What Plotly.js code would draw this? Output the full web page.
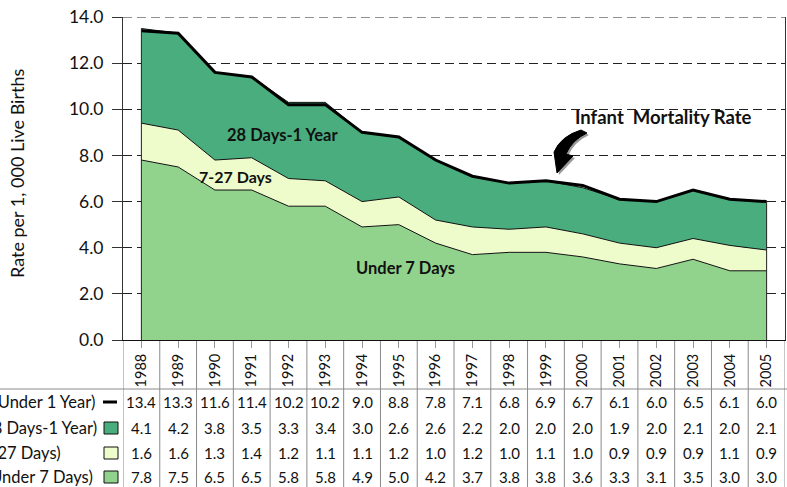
<!DOCTYPE html>
<html>
<head>
<meta charset="utf-8">
<script src="https://cdn.plot.ly/plotly-3.0.1.min.js"></script>
<style>html,body{margin:0;padding:0;background:#fff;}#chart{width:787px;height:487px;}</style>
</head>
<body>
<div id="chart"></div>
<script>
// ---- data ----
var years = ["1988","1989","1990","1991","1992","1993","1994","1995","1996","1997","1998","1999","2000","2001","2002","2003","2004","2005"];
var under1Year = [13.4,13.3,11.6,11.4,10.2,10.2,9.0,8.8,7.8,7.1,6.8,6.9,6.7,6.1,6.0,6.5,6.1,6.0];
var days28to1Year = [4.1,4.2,3.8,3.5,3.3,3.4,3.0,2.6,2.6,2.2,2.0,2.0,2.0,1.9,2.0,2.1,2.0,2.1];
var days7to27 = [1.6,1.6,1.3,1.4,1.2,1.1,1.1,1.2,1.0,1.2,1.0,1.1,1.0,0.9,0.9,0.9,1.1,0.9];
var under7Days = [7.8,7.5,6.5,6.5,5.8,5.8,4.9,5.0,4.2,3.7,3.8,3.8,3.6,3.3,3.1,3.5,3.0,3.0];
var rowLabels = ["Infant Mortality (Under 1 Year)","Postneonatal (28 Days-1 Year)","Late Neonatal (7-27 Days)","Early Neonatal (Under 7 Days)"];

// ---- styling ----
var C_DARK = "#4aad7e", C_PALE = "#eefbca", C_MID = "#91d38d";
var FONT = "Lato, 'Noto Sans', sans-serif";
var L = 123, R = 785, T = 17, B = 340, W = 787, H = 487;
function px(x){ return (x - L) / (R - L); }
function py(y){ return (B - y) / (B - T); }

var traces = [
  {x: years, y: under7Days, type: "scatter", mode: "lines", stackgroup: "s",
   line: {color: "#111", width: 1}, fillcolor: C_MID, hoverinfo: "skip"},
  {x: years, y: days7to27, type: "scatter", mode: "lines", stackgroup: "s",
   line: {color: "#111", width: 1}, fillcolor: C_PALE, hoverinfo: "skip"},
  {x: years, y: days28to1Year, type: "scatter", mode: "lines", stackgroup: "s",
   line: {color: "#111", width: 1}, fillcolor: C_DARK, hoverinfo: "skip"},
  {x: years, y: under1Year, type: "scatter", mode: "lines",
   line: {color: "#000", width: 3}, hoverinfo: "skip"}
];

var shapes = [];
var annotations = [];

// top dashed gridline at 14.0
shapes.push({type: "line", xref: "paper", yref: "y", x0: 0, x1: 1, y0: 14, y1: 14,
  line: {color: "#222", width: 1, dash: "9px,5px"}, layer: "below"});

// stack edges at first/last year
var last = years.length - 1;
[0, last].forEach(function(i){
  shapes.push({type: "line", xref: "x", yref: "y", x0: i, x1: i, y0: 0,
    y1: under7Days[i] + days7to27[i] + days28to1Year[i], line: {color: "#222", width: 1}});
});

// table grid
var tableBottom = py(H + 5);
for (var i = -1; i < years.length; i++) {
  shapes.push({type: "line", xref: "x", yref: "paper", x0: i + 0.5, x1: i + 0.5,
    y0: 0, y1: tableBottom, line: {color: "#8a8a8a", width: 1}, layer: "below"});
}
shapes.push({type: "line", xref: "paper", yref: "paper", x0: px(-5), x1: px(W + 5),
  y0: py(389), y1: py(389), line: {color: "#8a8a8a", width: 1}});

// table rows
var rowY = [402, 428, 453, 477];
var rowData = [under1Year, days28to1Year, days7to27, under7Days];
var labelEnd = [97, 99, 63, 95];
var rowColors = [null, C_DARK, C_PALE, C_MID];
rowData.forEach(function(arr, r){
  arr.forEach(function(v, i){
    annotations.push({xref: "x", yref: "paper", x: i, y: py(rowY[r]), text: v.toFixed(1),
      showarrow: false, xanchor: "center", yanchor: "middle",
      font: {family: FONT, size: 15, color: "#111"}});
  });
  annotations.push({xref: "paper", yref: "paper", x: px(labelEnd[r]), y: py(rowY[r]),
    text: rowLabels[r], showarrow: false, xanchor: "right", yanchor: "middle",
    font: {family: FONT, size: 16.5, color: "#111"}});
  if (r === 0) {
    shapes.push({type: "line", xref: "paper", yref: "paper", x0: px(103), x1: px(117),
      y0: py(rowY[r]), y1: py(rowY[r]), line: {color: "#000", width: 3}});
  } else {
    shapes.push({type: "rect", xref: "paper", yref: "paper", x0: px(104), x1: px(118),
      y0: py(rowY[r] - 6), y1: py(rowY[r] + 6), fillcolor: rowColors[r],
      line: {color: "#111", width: 1}});
  }
});

// in-chart labels
function lbl(text, x, y, size){
  annotations.push({xref: "paper", yref: "paper", x: px(x), y: py(y), text: text,
    showarrow: false, xanchor: "center", yanchor: "middle",
    font: {family: FONT, size: size, color: "#111", weight: 700}});
}
lbl("<b>28 Days-1 Year</b>", 282, 135, 16.5);
lbl("<b>7-27 Days</b>", 235, 177, 16);
lbl("<b>Under 7 Days</b>", 405, 268, 16.5);
lbl("<b>Infant\u00A0 Mortality Rate</b>", 663, 117, 18.5);

// y title
annotations.push({xref: "paper", yref: "paper", x: px(17), y: py(174), text: "Rate per 1, 000 Live Births",
  textangle: -90, showarrow: false, xanchor: "center", yanchor: "middle",
  font: {family: FONT, size: 18, color: "#111"}});

// curved arrow (decoration)
function arrowPath(dx, dy){
  function p(x, y){ return px(x + dx).toFixed(5) + "," + py(y + dy).toFixed(5); }
  return "M" + p(581,130) + " Q" + p(561,136) + " " + p(554,152) +
         " L" + p(557,173) + " L" + p(573,156) + " L" + p(566,154) +
         " Q" + p(572,140) + " " + p(587,133) + " Z";
}
shapes.push({type: "path", xref: "paper", yref: "paper", path: arrowPath(2, 2),
  fillcolor: "#999", line: {width: 0}});
shapes.push({type: "path", xref: "paper", yref: "paper", path: arrowPath(0, 0),
  fillcolor: "#000", line: {color: "#000", width: 1}});

var layout = {
  width: W, height: H,
  margin: {l: L, r: W - R, t: T, b: H - B, pad: 0},
  paper_bgcolor: "#fff", plot_bgcolor: "#fff",
  showlegend: false,
  font: {family: FONT, color: "#111"},
  xaxis: {type: "category", range: [-0.5, years.length - 0.5], showgrid: false, zeroline: false,
    showline: true, linecolor: "#111", linewidth: 1,
    ticks: "outside", ticklen: 7, tickcolor: "#999", tickangle: -90,
    tickfont: {family: FONT, size: 14.5, color: "#111"}, fixedrange: true},
  yaxis: {range: [0, 14], dtick: 2, tickformat: ".1f", showgrid: true, gridcolor: "#222",
    griddash: "9px,5px", gridwidth: 1, zeroline: false,
    showline: true, linecolor: "#333", linewidth: 1, mirror: true,
    ticks: "outside", ticklen: 10, tickcolor: "#333", ticklabelstandoff: 5,
    tickfont: {family: FONT, size: 17.5, color: "#111"}, fixedrange: true},
  shapes: shapes,
  annotations: annotations
};

Plotly.newPlot("chart", traces, layout, {staticPlot: true, displayModeBar: false});
</script>
</body>
</html>
